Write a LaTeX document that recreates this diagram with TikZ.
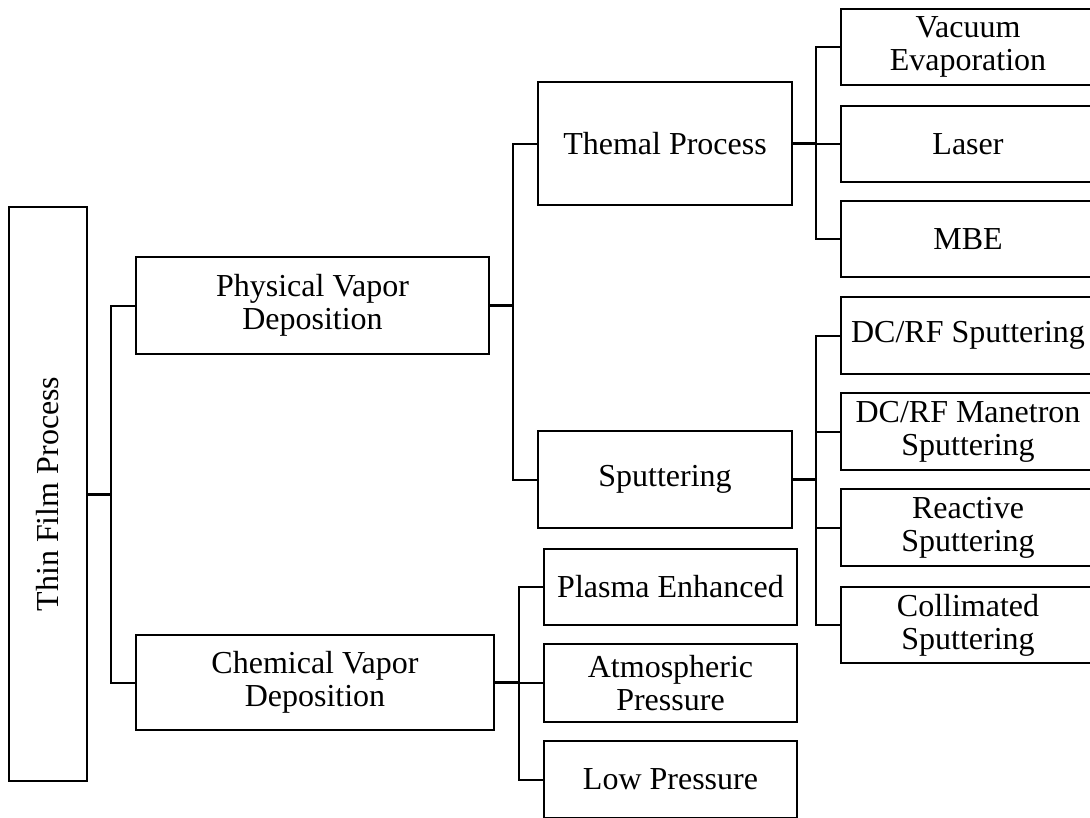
\documentclass[tikz,border=0pt]{standalone}
\usepackage{fontspec}
\setmainfont{Liberation Serif}
\newcommand{\boxfont}{\fontsize{32}{33}\selectfont}
\begin{document}
\begin{tikzpicture}[x=1pt,y=-1pt,
  box/.style={draw, line width=2pt, rectangle, inner sep=0pt, align=center, font=\boxfont},
  link/.style={line width=2pt},
  stub/.style={line width=3pt}]
\useasboundingbox (0,0) rectangle (1090,817);
\clip (0,0) rectangle (1090,817);
% root
\node[box, minimum width=78, minimum height=574] (tfp) at (48,494) {\rotatebox{90}{Thin Film Process}};
% level 1
\node[box, minimum width=353, minimum height=97] (pvd) at (312.5,305.5) {Physical Vapor\\Deposition};
\node[box, minimum width=358, minimum height=95] (cvd) at (315,682.5) {Chemical Vapor\\Deposition};
% level 2
\node[box, minimum width=254, minimum height=123] (th) at (665,143.5) {Themal Process};
\node[box, minimum width=254, minimum height=97] (sp) at (665,479.5) {Sputtering};
\node[box, minimum width=253, minimum height=76] (pe) at (670.5,587) {Plasma Enhanced};
\node[box, minimum width=253, minimum height=78] (ap) at (670.5,683) {Atmospheric\\Pressure};
\node[box, minimum width=253, minimum height=77] (lp) at (670.5,779.5) {Low Pressure};
% level 3
\node[box, minimum width=254, minimum height=76] (ve) at (968,47) {Vacuum\\Evaporation};
\node[box, minimum width=254, minimum height=76] (la) at (968,144) {Laser};
\node[box, minimum width=254, minimum height=76] (mbe) at (968,239) {MBE};
\node[box, minimum width=254, minimum height=77] (dcs) at (968,335.5) {DC/RF Sputtering};
\node[box, minimum width=254, minimum height=77] (dcm) at (968,431.5) {DC/RF Manetron\\Sputtering};
\node[box, minimum width=254, minimum height=77] (re) at (968,527.5) {Reactive\\Sputtering};
\node[box, minimum width=254, minimum height=76] (co) at (968,625) {Collimated\\Sputtering};
% junctions
\coordinate (j0) at (111,494);
\coordinate (j1) at (513,305.5);
\coordinate (j2) at (816,143.5);
\coordinate (j3) at (816,479.5);
\coordinate (j4) at (519,682.5);
% connectors
\draw[stub] (tfp.east) -- (j0);
\draw[link] (pvd.west) -| (j0) |- (cvd.west);
\draw[stub] (pvd.east) -- (j1);
\draw[link] (th.west) -| (j1) |- (sp.west);
\draw[stub] (th.east) -- (j2);
\draw[link] (ve.west) -| (j2) |- (mbe.west);
\draw[link] (la.west) -- (la.west -| j2);
\draw[stub] (sp.east) -- (j3);
\draw[link] (dcs.west) -| (j3) |- (co.west);
\draw[link] (dcm.west) -- (dcm.west -| j3);
\draw[link] (re.west) -- (re.west -| j3);
\draw[stub] (cvd.east) -- (j4);
\draw[link] (pe.west) -| (j4) |- (lp.west);
\draw[link] (ap.west) -- (ap.west -| j4);
\end{tikzpicture}
\end{document}
